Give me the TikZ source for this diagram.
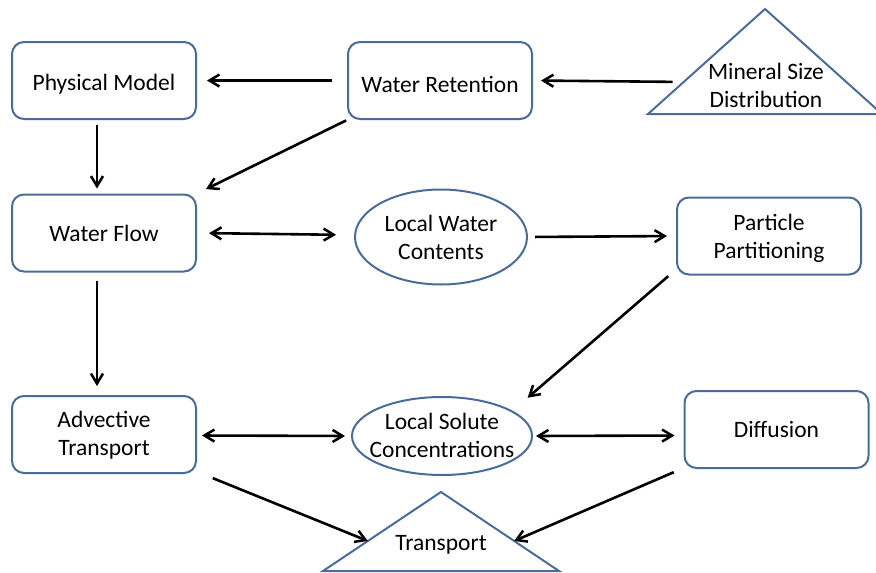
\documentclass[tikz,border=0pt]{standalone}
\usepackage{fontspec}
\setmainfont{Carlito}
\usetikzlibrary{arrows.meta,shapes.geometric,calc}
\definecolor{bord}{HTML}{4A6C9B}
\tikzset{
  box/.style={draw=bord,line width=2pt,rounded corners=12pt,minimum width=184pt,minimum height=77pt,inner sep=0pt,align=center,fill=white},
  oval/.style={draw=bord,line width=2pt,ellipse,inner sep=0pt},
  tri/.style={draw=bord,line width=2pt,line join=miter},
  tip/.tip={Straight Barb[length=10pt,width=12pt,line width=2.5pt]},
  arr/.style={line width=2.6pt,-tip},
  darr/.style={line width=2.6pt,tip-tip},
  lbl/.style={inner sep=0pt,align=center}
}
\begin{document}
\begin{tikzpicture}[x=1pt,y=-1pt,font=\fontsize{23.5}{28}\selectfont]
\useasboundingbox[fill=white] (0,0) rectangle (876,573);
% rounded boxes
\node[box,label={[lbl,yshift=-4pt]center:Physical Model}] (pm) at (104,80.5) {};
\node[box,label={[lbl,yshift=-4pt]center:Water Retention}] (wr) at (440,80.5) {};
\node[box] (wf) at (104,233) {Water Flow};
\node[box,label={[lbl,yshift=-2pt]center:Particle\\Partitioning}] (pp) at (769,236) {};
\node[box,label={[lbl,yshift=-1pt]center:Advective\\Transport}] (at) at (104,434.5) {};
\node[box] (df) at (776.5,429.5) {Diffusion};
% ellipses
\node[oval,minimum width=172pt,minimum height=95pt,label={[lbl]center:Local Water\\Contents}] (lwc) at (441,237) {};
\node[oval,minimum width=180pt,minimum height=78pt,label={[lbl,yshift=1pt]center:Local Solute\\Concentrations}] (lsc) at (442,436) {};
% triangles
\coordinate (msdT) at (765,9);
\coordinate (msdL) at (648,114);
\coordinate (msdR) at (882,114);
\draw[tri] (msdT) -- (msdL) -- (msdR) -- cycle;
\node[lbl] (msd) at (766,85.5) {Mineral Size\\Distribution};
\coordinate (msdE) at ($(msdT)!0.695!(msdL)$);
\coordinate (trT) at (441,492);
\coordinate (trL) at (323,571);
\coordinate (trR) at (559,571);
\draw[tri] (trT) -- (trL) -- (trR) -- cycle;
\node[lbl] (tr) at (441,545) {Transport};
\coordinate (trLE) at ($(trT)!0.62!(trL)$);
\coordinate (trRE) at ($(trT)!0.62!(trR)$);
% connectors
\draw[arr,shorten <=15pt,shorten >=10pt] (wr.west) -- (pm.east);
\draw[arr,shorten <=11pt,shorten >=8pt] (msdE) -- (wr.east);
\draw[arr,shorten <=5pt,shorten >=5pt] ([xshift=-7pt]pm.south) -- ([xshift=-7pt]wf.north);
\draw[arr,shorten <=1pt,shorten >=10pt] (wr.south west) -- (wf.north east);
\draw[darr,shorten <=12pt,shorten >=18pt] (wf.east) -- ([yshift=2pt]lwc.west);
\draw[arr,shorten <=7pt,shorten >=9pt] (lwc.east) -- (pp.west);
\draw[arr,shorten <=8pt,shorten >=9pt] ([xshift=-7pt]wf.south) -- ([xshift=-7pt]at.north);
\draw[arr,shorten <=1pt,shorten >=3pt] ([xshift=-7pt]pp.south west) -- ([shift={(19,-8)}]lsc.north east);
\draw[darr,shorten <=5pt,shorten >=6pt] ([yshift=-1pt]at.east) -- (lsc.west);
\draw[darr,shorten <=3pt,shorten >=9pt] (lsc.east) -- ([yshift=-6pt]df.west);
\draw[arr,shorten <=3pt,shorten >=0pt] ([shift={(13,3)}]at.south east) -- (trLE);
\draw[arr,shorten <=3pt,shorten >=0pt] ([shift={(-7,2)}]df.south west) -- (trRE);
\end{tikzpicture}
\end{document}
